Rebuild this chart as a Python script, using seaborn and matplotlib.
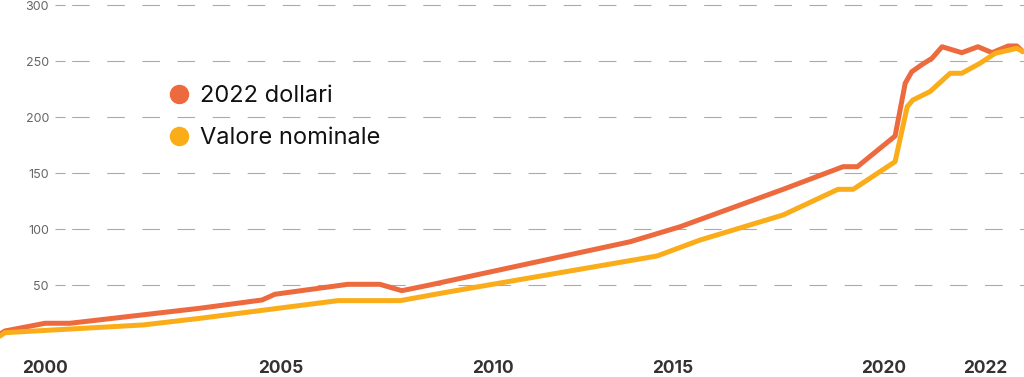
import numpy as np
import pandas as pd
import matplotlib
matplotlib.use("Agg")
import matplotlib.pyplot as plt
import matplotlib.transforms as mtransforms
import seaborn as sns
from matplotlib.lines import Line2D

# ---- data ----
anni_reale = [1999.05, 1999.15, 2000.0, 2000.53, 2003.28, 2004.60, 2004.87, 2006.58,
              2007.33, 2007.85, 2008.51, 2013.81, 2015.17, 2017.61, 2019.03, 2019.37,
              2020.22, 2020.42, 2020.55, 2020.77, 2020.95, 2021.15, 2021.54, 2021.86,
              2022.14, 2022.46, 2022.63, 2022.75]
valori_reale = [6.5, 9.2, 16.1, 16.1, 29.5, 36.9, 42.0, 50.9,
                50.9, 45.2, 50.3, 88.9, 102.3, 135.7, 155.9, 155.9,
                183.3, 230.4, 240.7, 247.6, 252.7, 263.0, 257.7, 263.0,
                257.7, 263.7, 263.7, 258.6]

anni_nominale = [1999.05, 1999.15, 2002.08, 2003.28, 2006.34, 2007.81, 2008.98, 2014.56,
                 2015.64, 2017.61, 2018.91, 2019.27, 2020.22, 2020.46, 2020.57, 2020.91,
                 2021.31, 2021.54, 2021.90, 2022.20, 2022.63, 2022.75]
valori_nominale = [4.7, 7.7, 14.6, 20.5, 36.3, 36.3, 44.3, 76.2,
                   90.4, 112.8, 135.7, 135.7, 160.4, 209.5, 215.4, 222.9,
                   239.3, 239.3, 248.2, 257.1, 261.6, 258.6]

serie = ["2022 dollari", "Valore nominale"]
colori = ["#EC6A3D", "#FAAD19"]
x_ticks = [2000, 2005, 2010, 2015, 2020, 2022]
y_ticks = [50, 100, 150, 200, 250, 300]

df = pd.concat([
    pd.DataFrame({"anno": anni_reale, "valore": valori_reale, "serie": serie[0]}),
    pd.DataFrame({"anno": anni_nominale, "valore": valori_nominale, "serie": serie[1]}),
])

# irregular year spacing of the original axis (piecewise linear scale)
_yrs = np.array([1900, 2000, 2005, 2010, 2015, 2020, 2022, 2100], dtype=float)
_pos = np.array([45 - 100 * 47.2, 45, 281, 493, 673, 884, 985, 985 + 78 * 50.5])

def fwd(x):
    return np.interp(x, _yrs, _pos)

def inv(p):
    return np.interp(p, _pos, _yrs)

sns.set_theme(style="white")
plt.rcParams["font.family"] = ["Inter", "DejaVu Sans"]

W, H = 1024, 377
fig = plt.figure(figsize=(W / 100, H / 100), dpi=100)
ax = fig.add_axes([55 / W, 35.7 / H, 1 - 55 / W, 1 - 35.7 / H])

sns.lineplot(data=df, x="anno", y="valore", hue="serie", palette=colori,
             hue_order=serie, linewidth=3.6, legend=False, sort=False, ax=ax)
for ln in ax.lines:
    ln.set_clip_on(False)
    ln.set_solid_joinstyle("round")
    ln.set_solid_capstyle("round")

ax.set_xscale("function", functions=(fwd, inv))
ax.set_xticks([])
ax.set_xlim(inv(55), inv(1024))
ax.set_ylim(0, 341.3 / 1.12)

# year labels (the 2000 label sits left of the plotting area)
trans = mtransforms.blended_transform_factory(ax.transData, fig.transFigure)
for t in x_ticks:
    ax.text(t, 1 - 368.5 / H, str(t), transform=trans, ha="center", va="center",
            fontsize=12.5, fontweight="bold", color="#333333", clip_on=False)

ax.set_yticks(y_ticks)
ax.set_yticklabels([str(t) for t in y_ticks], fontsize=9, color="#666666")
ax.tick_params(axis="y", direction="in", length=7.2, width=0.8, color="#aaaaaa",
               pad=4.4, left=True)
ax.set_xlabel("")
ax.set_ylabel("")
for s in ax.spines.values():
    s.set_visible(False)
ax.grid(axis="y", color="#aaaaaa", linewidth=0.8, linestyle=(16.6, (15.8, 15.8)))
ax.grid(axis="x", visible=False)
ax.set_axisbelow(True)

handles = [Line2D([], [], marker="o", linestyle="none", markersize=13,
                  markerfacecolor=c, markeredgecolor=c) for c in colori]
leg = fig.legend(handles, serie, loc="upper left", bbox_to_anchor=(155 / W, 1 - 73 / H),
                 frameon=False, fontsize=17, handletextpad=0.4, labelspacing=0.85,
                 handlelength=1.0, borderpad=0)
for t in leg.get_texts():
    t.set_color("#111111")

fig.savefig("out.png", dpi=100)
